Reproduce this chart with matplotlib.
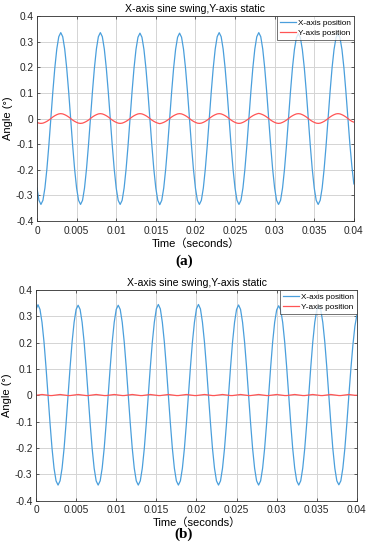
import numpy as np
import matplotlib
matplotlib.use("Agg")
import matplotlib.pyplot as plt

plt.rcParams['font.family'] = ['Liberation Sans', 'Noto Sans CJK SC', 'DejaVu Sans']
plt.rcParams['axes.unicode_minus'] = False

# time axis, sampled every 0.00025 s
t = np.linspace(0, 0.04, 161)

# (a) X-axis position
x_pos_a = [
    -0.271, -0.319, -0.335, -0.319, -0.271, -0.197, -0.104, 0.0, 0.104, 0.197, 0.271, 0.319, 0.335, 0.319, 0.271, 0.197, 0.104, 0.0, -0.104, -0.197,
    -0.271, -0.319, -0.335, -0.319, -0.271, -0.197, -0.104, 0.0, 0.104, 0.197, 0.271, 0.319, 0.335, 0.319, 0.271, 0.197, 0.104, 0.0, -0.104, -0.197,
    -0.271, -0.319, -0.335, -0.319, -0.271, -0.197, -0.104, 0.0, 0.104, 0.197, 0.270, 0.317, 0.333, 0.317, 0.270, 0.197, 0.104, 0.0, -0.104, -0.197,
    -0.271, -0.319, -0.336, -0.319, -0.271, -0.197, -0.104, 0.0, 0.104, 0.197, 0.270, 0.317, 0.333, 0.317, 0.270, 0.197, 0.104, 0.0, -0.104, -0.197,
    -0.271, -0.319, -0.335, -0.319, -0.271, -0.197, -0.104, 0.0, 0.104, 0.197, 0.271, 0.319, 0.335, 0.319, 0.271, 0.197, 0.104, 0.0, -0.104, -0.197,
    -0.271, -0.319, -0.335, -0.319, -0.271, -0.197, -0.104, 0.0, 0.104, 0.197, 0.271, 0.319, 0.335, 0.319, 0.271, 0.197, 0.104, 0.0, -0.104, -0.197,
    -0.271, -0.319, -0.335, -0.319, -0.271, -0.197, -0.104, 0.0, 0.104, 0.197, 0.269, 0.315, 0.331, 0.315, 0.269, 0.197, 0.104, 0.0, -0.104, -0.197,
    -0.271, -0.319, -0.335, -0.319, -0.271, -0.197, -0.104, 0.0, 0.104, 0.197, 0.269, 0.315, 0.331, 0.315, 0.269, 0.197, 0.104, 0.0, -0.100, -0.185,
    -0.255,
]

# (a) Y-axis position
y_pos_a = [
    -0.015, -0.018, -0.019, -0.018, -0.015, -0.011, -0.006, 0.0, 0.006, 0.011, 0.015, 0.018, 0.019, 0.018, 0.015, 0.011, 0.006, 0.0, -0.006, -0.011,
    -0.015, -0.018, -0.019, -0.018, -0.015, -0.011, -0.006, 0.0, 0.006, 0.011, 0.015, 0.018, 0.019, 0.018, 0.015, 0.011, 0.006, 0.0, -0.006, -0.011,
    -0.015, -0.018, -0.019, -0.018, -0.015, -0.011, -0.006, 0.0, 0.006, 0.011, 0.015, 0.018, 0.019, 0.018, 0.015, 0.011, 0.006, 0.0, -0.006, -0.011,
    -0.015, -0.018, -0.020, -0.018, -0.015, -0.011, -0.006, 0.0, 0.006, 0.011, 0.015, 0.018, 0.019, 0.018, 0.015, 0.011, 0.006, 0.0, -0.006, -0.011,
    -0.015, -0.018, -0.019, -0.018, -0.015, -0.011, -0.006, 0.0, 0.006, 0.011, 0.015, 0.018, 0.019, 0.018, 0.015, 0.011, 0.006, 0.0, -0.006, -0.011,
    -0.015, -0.018, -0.019, -0.018, -0.015, -0.011, -0.006, 0.0, 0.006, 0.011, 0.015, 0.018, 0.020, 0.018, 0.015, 0.011, 0.006, 0.0, -0.006, -0.011,
    -0.015, -0.018, -0.019, -0.018, -0.015, -0.011, -0.006, 0.0, 0.006, 0.011, 0.015, 0.018, 0.019, 0.018, 0.015, 0.011, 0.006, 0.0, -0.006, -0.011,
    -0.015, -0.018, -0.019, -0.018, -0.015, -0.011, -0.006, 0.0, 0.006, 0.011, 0.015, 0.018, 0.019, 0.018, 0.015, 0.011, 0.006, 0.0, -0.006, -0.011,
    -0.014,
]

# (b) X-axis position
x_pos_b = [
    0.326, 0.344, 0.326, 0.277, 0.202, 0.106, 0.0, -0.106, -0.202, -0.277, -0.325, -0.341, -0.325, -0.277, -0.202, -0.106, 0.0, 0.106, 0.202, 0.277,
    0.326, 0.342, 0.326, 0.277, 0.202, 0.106, 0.0, -0.106, -0.202, -0.277, -0.325, -0.341, -0.325, -0.277, -0.202, -0.106, 0.0, 0.106, 0.202, 0.277,
    0.326, 0.342, 0.326, 0.277, 0.202, 0.106, 0.0, -0.106, -0.202, -0.277, -0.325, -0.341, -0.325, -0.277, -0.202, -0.106, 0.0, 0.106, 0.202, 0.277,
    0.328, 0.345, 0.328, 0.277, 0.202, 0.106, 0.0, -0.106, -0.202, -0.277, -0.325, -0.341, -0.325, -0.277, -0.202, -0.106, 0.0, 0.106, 0.202, 0.277,
    0.328, 0.345, 0.328, 0.277, 0.202, 0.106, 0.0, -0.106, -0.202, -0.277, -0.325, -0.341, -0.325, -0.277, -0.202, -0.106, 0.0, 0.106, 0.202, 0.277,
    0.326, 0.343, 0.326, 0.277, 0.202, 0.106, 0.0, -0.106, -0.202, -0.277, -0.325, -0.341, -0.325, -0.277, -0.202, -0.106, 0.0, 0.106, 0.202, 0.277,
    0.324, 0.340, 0.324, 0.277, 0.202, 0.106, 0.0, -0.106, -0.202, -0.277, -0.325, -0.341, -0.325, -0.277, -0.202, -0.106, 0.0, 0.106, 0.202, 0.277,
    0.324, 0.340, 0.324, 0.277, 0.202, 0.106, 0.0, -0.106, -0.202, -0.277, -0.325, -0.340, -0.325, -0.277, -0.202, -0.106, 0.0, 0.100, 0.190, 0.262,
    0.305,
]

# (b) Y-axis position, almost flat
y_pos_b = [
    0.0, 0.001, 0.002, 0.003, 0.002, 0.001, 0.0, -0.001, -0.001, 0.0, 0.001, 0.002, 0.003, 0.002, 0.001, 0.0, -0.001, -0.001, 0.0, 0.001,
    0.002, 0.003, 0.002, 0.001, 0.0, -0.001, -0.001, 0.0, 0.001, 0.002, 0.003, 0.002, 0.001, 0.0, -0.001, -0.001, 0.0, 0.001, 0.002, 0.003,
    0.002, 0.001, 0.0, -0.001, -0.001, 0.0, 0.001, 0.002, 0.003, 0.002, 0.001, 0.0, -0.001, -0.001, 0.0, 0.001, 0.002, 0.003, 0.002, 0.001,
    0.0, -0.001, -0.001, 0.0, 0.001, 0.002, 0.003, 0.002, 0.001, 0.0, -0.001, -0.001, 0.0, 0.001, 0.002, 0.003, 0.002, 0.001, 0.0, -0.001,
    -0.001, 0.0, 0.001, 0.002, 0.003, 0.002, 0.001, 0.0, -0.001, -0.001, 0.0, 0.001, 0.002, 0.003, 0.002, 0.001, 0.0, -0.001, -0.001, 0.0,
    0.001, 0.002, 0.003, 0.002, 0.001, 0.0, -0.001, -0.001, 0.0, 0.001, 0.002, 0.003, 0.002, 0.001, 0.0, -0.001, -0.001, 0.0, 0.001, 0.002,
    0.003, 0.002, 0.001, 0.0, -0.001, -0.001, 0.0, 0.001, 0.002, 0.003, 0.002, 0.001, 0.0, -0.001, -0.001, 0.0, 0.001, 0.002, 0.003, 0.002,
    0.001, 0.0, -0.001, -0.001, 0.0, 0.001, 0.002, 0.003, 0.002, 0.001, 0.0, -0.001, -0.001, 0.0, 0.001, 0.002, 0.003, 0.002, 0.001, 0.0,
    0.0,
]

x_ticks = [0, 0.005, 0.01, 0.015, 0.02, 0.025, 0.03, 0.035, 0.04]
x_tick_labels = ["0", "0.005", "0.01", "0.015", "0.02", "0.025", "0.03", "0.035", "0.04"]
y_ticks = [-0.4, -0.3, -0.2, -0.1, 0, 0.1, 0.2, 0.3, 0.4]
y_tick_labels = ["-0.4", "-0.3", "-0.2", "-0.1", "0", "0.1", "0.2", "0.3", "0.4"]

blue = "#4a9fdc"
red = "#ff5555"

fig = plt.figure(figsize=(3.68, 5.5), dpi=100)
ax1 = fig.add_axes([0.1005, 0.598, 0.861, 0.373])
ax2 = fig.add_axes([0.0978, 0.0898, 0.872, 0.383])


def style(ax, xs, ys):
    ax.plot(t, xs, color=blue, lw=0.9, label="X-axis position")
    ax.plot(t, ys, color=red, lw=0.9, label="Y-axis position")
    ax.set_xlim(0, 0.04)
    ax.set_ylim(-0.4, 0.4)
    ax.set_xticks(x_ticks)
    ax.set_xticklabels(x_tick_labels)
    ax.set_yticks(y_ticks)
    ax.set_yticklabels(y_tick_labels)
    ax.grid(True, color="#d4d4d4", lw=0.7)
    ax.set_axisbelow(True)
    ax.tick_params(direction="in", length=2.5, width=0.5, labelsize=7.3,
                   top=True, right=True, colors="#262626")
    ax.tick_params(axis="y", pad=2.5)
    ax.tick_params(axis="x", pad=3.5)
    for s in ax.spines.values():
        s.set_color("#333333")
        s.set_linewidth(0.6)
    ax.set_title("X-axis sine swing,Y-axis static", fontsize=7.6, pad=2.5)
    ax.set_xlabel("Time（seconds）", fontsize=8, labelpad=1.5)
    ax.set_ylabel("Angle (°)", fontsize=8, labelpad=2.5)
    leg = ax.legend(loc="upper right", fontsize=5.9, frameon=True, fancybox=False,
                    borderaxespad=0, handlelength=1.9, borderpad=0.35,
                    labelspacing=0.3, handletextpad=0.3)
    leg.get_frame().set_edgecolor("#333333")
    leg.get_frame().set_linewidth(0.6)


style(ax1, x_pos_a, y_pos_a)
style(ax2, x_pos_b, y_pos_b)

serif = ["Liberation Serif", "DejaVu Serif"]
fig.text(0.5, 1 - 261 / 550, "(a)", ha="center", va="center", fontsize=11,
         fontweight="bold", family=serif)
fig.text(0.5, 1 - 534 / 550, "(b)", ha="center", va="center", fontsize=11,
         fontweight="bold", family=serif)

fig.savefig("out.png", dpi=100)
